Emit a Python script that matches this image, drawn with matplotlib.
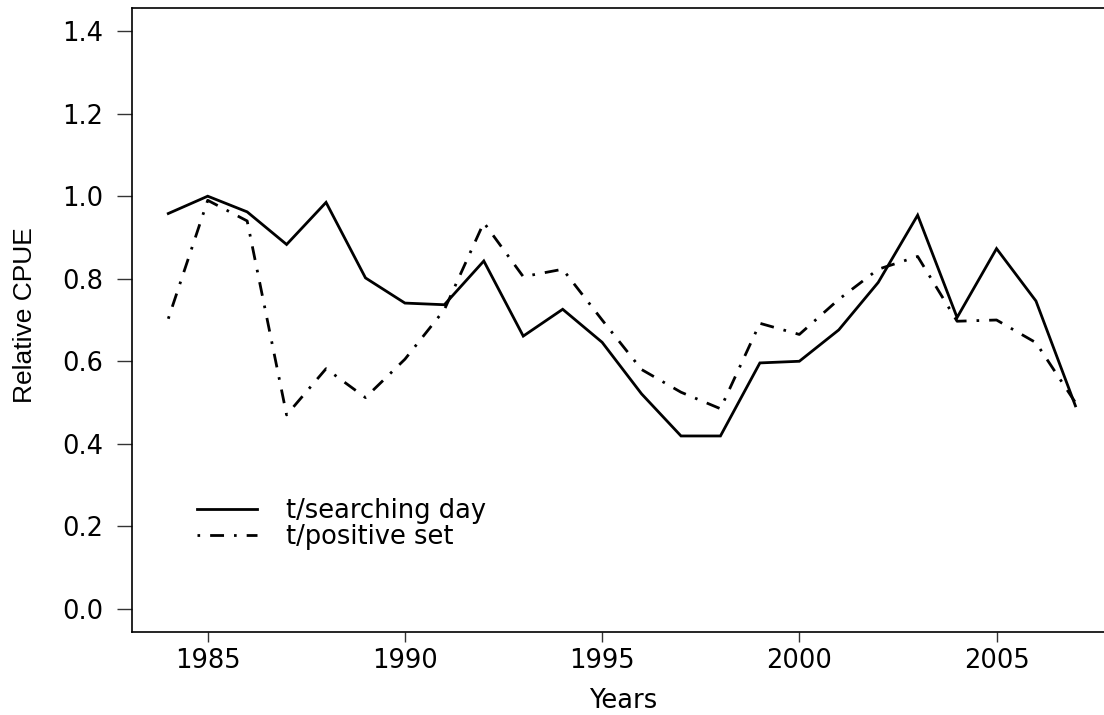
import matplotlib
matplotlib.use("Agg")
import matplotlib.pyplot as plt

# Relative CPUE series, 1984-2007
years = list(range(1984, 2008))
searching_day = [0.958, 1.000, 0.962, 0.883, 0.985, 0.802, 0.741, 0.737,
                 0.843, 0.661, 0.726, 0.646, 0.521, 0.419, 0.419, 0.596,
                 0.600, 0.676, 0.791, 0.954, 0.706, 0.873, 0.746, 0.492]
positive_set = [0.703, 0.990, 0.940, 0.470, 0.582, 0.512, 0.605, 0.725,
                0.936, 0.805, 0.823, 0.700, 0.580, 0.525, 0.485, 0.692,
                0.665, 0.750, 0.823, 0.854, 0.697, 0.700, 0.645, 0.500]
series_labels = ["t/searching day", "t/positive set"]
x_ticks = [1985, 1990, 1995, 2000, 2005]
y_ticks = [0.0, 0.2, 0.4, 0.6, 0.8, 1.0, 1.2, 1.4]

W, H = 1104, 715
fig = plt.figure(figsize=(W / 100, H / 100), dpi=100)
fig.patch.set_facecolor("white")

ax = fig.add_axes([132 / W, (H - 632) / H, 979.7 / W, 624 / H])

lw = 2.0
ax.plot(years, searching_day, color="black", lw=lw, solid_joinstyle="miter",
        label=series_labels[0])
ax.plot(years, positive_set, color="black", lw=lw,
        linestyle=(0, (0.95, 3.6, 5.0, 3.6)), dash_capstyle="butt",
        label=series_labels[1])

# R-style 4% padding on both axes
xr = years[-1] - years[0]
ax.set_xlim(years[0] - 0.04 * xr, years[-1] + 0.04 * xr)
ax.set_ylim(-0.056, 1.456)

tick_font = dict(family=["DejaVu Sans"], size=18.5)
ax.set_xticks(x_ticks)
ax.set_xticklabels([str(v) for v in x_ticks], fontdict=tick_font)
ax.set_yticks(y_ticks)
ax.set_yticklabels([f"{v:.1f}" for v in y_ticks], fontdict=tick_font)
ax.tick_params(axis="x", length=7.2, width=1.0, pad=4.5, color="#333333")
ax.tick_params(axis="y", length=10.8, width=1.0, pad=10, color="#333333")

for s in ax.spines.values():
    s.set_linewidth(1.2)
    s.set_color("black")
ax.spines["right"].set_visible(False)

fig.text(623 / W, 1 - 701 / H, "Years", ha="center", va="center",
         family=["DejaVu Sans"], size=18.5)
fig.text(25 / W, 1 - 315 / H, "Relative CPUE", ha="center", va="center",
         rotation=90, family=["Liberation Sans"], size=19)

leg = ax.legend(loc="center left", bbox_to_anchor=(197 / W, 1 - 524 / H),
                bbox_transform=fig.transFigure, frameon=False,
                prop=dict(family="DejaVu Sans", size=18.5),
                handlelength=2.35, handletextpad=1.1, labelspacing=0.0,
                borderpad=0.0, borderaxespad=0.0)

fig.savefig("out.png", dpi=100, facecolor="white")
